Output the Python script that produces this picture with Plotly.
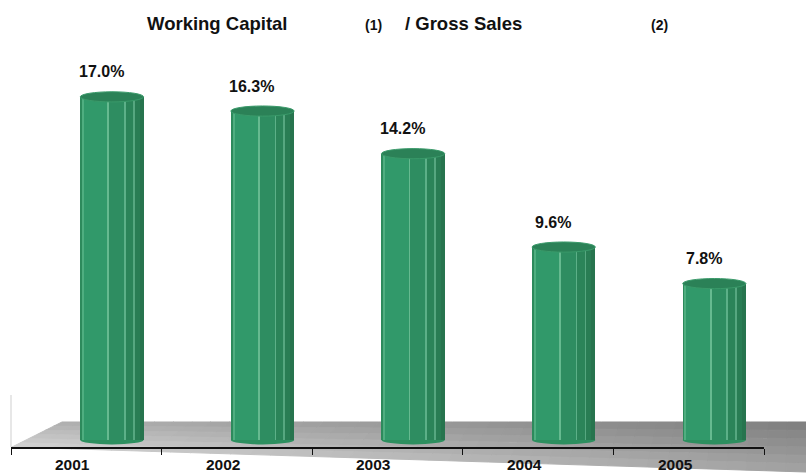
import plotly.graph_objects as go

# ---- data -------------------------------------------------------------
years = ["2001", "2002", "2003", "2004", "2005"]
ratios = [17.0, 16.3, 14.2, 9.6, 7.8]          # working capital / gross sales, %
value_labels = [f"{v:.1f}%" for v in ratios]

# ---- canvas geometry (pixels) ----------------------------------------
W, H = 806, 474
L, R, T, B = 11, 764, 40, 447
Y_RANGE = [-0.25, 19.8]
X_RANGE = [-0.5, len(years) - 0.5]

def px_x(px):
    return (px - L) / (R - L)

def px_y(py):
    return (B - py) / (B - T)

FONT = "Liberation Sans, Arial, sans-serif"

# cylinder look
BAR_SHIFT = 0.17      # depth shift of the cylinders to the right of the category
BAR_W = 0.42
CAP_H = 0.25          # half-height of the elliptical caps (value units)
BASE = 0.1
stripes = [
    (0.00, 0.03, "#2d8a5c"),
    (0.03, 0.06, "#4fae80"),
    (0.06, 0.44, "#31996a"),
    (0.44, 0.46, "#66ba90"),
    (0.46, 0.70, "#2e8d61"),
    (0.70, 0.72, "#5cb088"),
    (0.72, 0.84, "#2b8459"),
    (0.84, 0.86, "#56a780"),
    (0.86, 0.94, "#297d54"),
    (0.94, 1.00, "#27744e"),
]

fig = go.Figure()

xs = list(range(len(years)))
centers = [i + BAR_SHIFT for i in xs]

for f0, f1, col in stripes:
    off = (f0 + f1) / 2 - 0.5
    fig.add_trace(go.Bar(
        x=[c + off * BAR_W for c in centers],
        y=[v - BASE for v in ratios],
        base=BASE,
        width=(f1 - f0) * BAR_W + 0.002,
        marker=dict(color=col, line=dict(width=0)),
        hoverinfo="skip",
        showlegend=False,
    ))

shapes = []

# ---- floor: shaded quad split in cells for a soft gradient ----------
BL, BR, FR, FL = (62, 422), (806, 422), (806, 472), (12, 447)
NU, NV = 40, 6

def pt(u, v):
    top = ((1 - u) * BL[0] + u * BR[0], (1 - u) * BL[1] + u * BR[1])
    bot = ((1 - u) * FL[0] + u * FR[0], (1 - u) * FL[1] + u * FR[1])
    return ((1 - v) * top[0] + v * bot[0], (1 - v) * top[1] + v * bot[1])

for iu in range(NU):
    for iv in range(NV):
        u0, u1 = iu / NU, (iu + 1) / NU
        v0, v1 = iv / NV, (iv + 1) / NV
        um, vm = (u0 + u1) / 2, (v0 + v1) / 2
        g = int(212 - 48 * um - 38 * (1 - vm))
        col = f"rgb({g},{g},{g})"
        pts = [pt(u0, v0), pt(u1, v0), pt(u1, v1), pt(u0, v1)]
        path = "M " + " L ".join(f"{px_x(x):.5f},{px_y(y):.5f}" for x, y in pts) + " Z"
        shapes.append(dict(type="path", path=path, xref="paper", yref="paper",
                           fillcolor=col, line=dict(color=col, width=1), layer="below"))

# faint left wall edge
shapes.append(dict(type="line", xref="paper", yref="paper",
                   x0=px_x(11), x1=px_x(11), y0=px_y(395), y1=px_y(447),
                   line=dict(color="#cfcfcf", width=1), layer="below"))

# ---- cylinder bottoms and tops --------------------------------------
for c, v in zip(centers, ratios):
    shapes.append(dict(type="circle", xref="x", yref="y",
                       x0=c - BAR_W / 2, x1=c + BAR_W / 2,
                       y0=BASE - CAP_H * 0.9, y1=BASE + CAP_H * 0.9,
                       fillcolor="#2d8f5f", line=dict(width=0), layer="below"))
    shapes.append(dict(type="circle", xref="x", yref="y",
                       x0=c - BAR_W / 2, x1=c + BAR_W / 2,
                       y0=v - CAP_H, y1=v + CAP_H,
                       fillcolor="#2b8157", line=dict(color="#3a9a6a", width=1),
                       layer="above"))

fig.update_layout(shapes=shapes)

# ---- text -----------------------------------------------------------
ann = []
for c, v, t in zip(centers, ratios, value_labels):
    ann.append(dict(x=c - 0.07, y=v + 1.23, xref="x", yref="y", text=f"<b>{t}</b>",
                    showarrow=False, font=dict(family=FONT, size=16, color="#111111"),
                    xanchor="center", yanchor="middle"))

for i, yr in enumerate(years):
    ann.append(dict(x=i - 0.09, y=px_y(464.5), xref="x", yref="paper", text=f"<b>{yr}</b>",
                    showarrow=False, font=dict(family=FONT, size=15.5, color="#111111"),
                    xanchor="center", yanchor="middle"))

title_parts = [
    ("Working Capital", 145, 18.5, 24),
    ("(1)", 363, 14, 25.5),
    ("/ Gross Sales", 403, 18.5, 24),
    ("(2)", 649, 14, 25.5),
]
for txt, xl, sz, yc in title_parts:
    ann.append(dict(x=px_x(xl), y=px_y(yc), xref="paper", yref="paper",
                    text=f"<b>{txt}</b>", showarrow=False,
                    font=dict(family=FONT, size=sz, color="#111111"),
                    xanchor="left", yanchor="middle"))

fig.update_layout(
    annotations=ann,
    width=W, height=H,
    margin=dict(l=L, r=W - R, t=T, b=H - B, pad=0),
    paper_bgcolor="white",
    plot_bgcolor="rgba(0,0,0,0)",
    barmode="overlay",
    bargap=0,
    showlegend=False,
    xaxis=dict(
        range=X_RANGE, showgrid=False, zeroline=False,
        showline=True, linecolor="#111111", linewidth=1.5,
        tickvals=[i - 0.5 for i in range(len(years) + 1)],
        ticktext=[""] * (len(years) + 1),
        ticks="outside", ticklen=6, tickcolor="#111111", tickwidth=1,
        fixedrange=True,
    ),
    yaxis=dict(range=Y_RANGE, visible=False, showgrid=False, zeroline=False,
               fixedrange=True),
)

fig.write_html("out.html", config={"displayModeBar": False})
